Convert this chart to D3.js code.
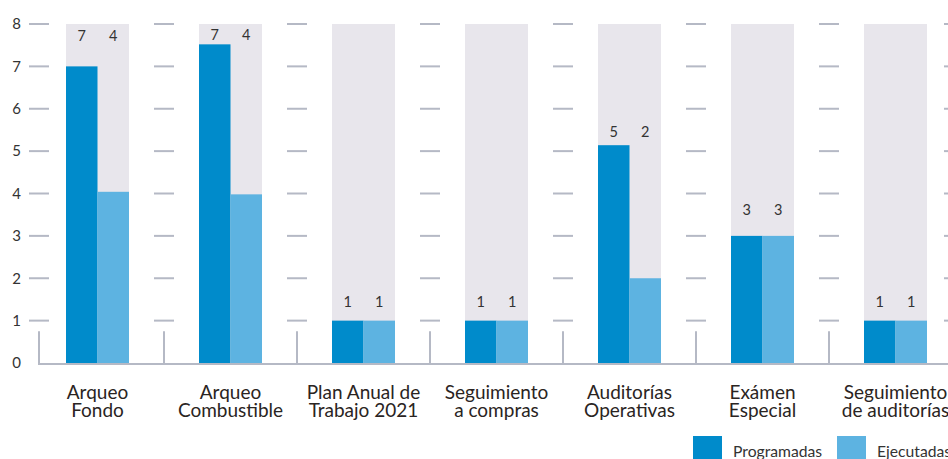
<!DOCTYPE html>
<html>
<head>
<meta charset="utf-8">
<script src="https://cdn.jsdelivr.net/npm/d3@7"></script>
<style>
  html, body { margin: 0; padding: 0; background: #fff; }
  svg { display: block; font-family: Lato, "Open Sans", sans-serif; }
</style>
</head>
<body>
<svg id="chart" width="948" height="459"></svg>
<script>
// ---- data ----
const categories = ["Arqueo Fondo", "Arqueo Combustible", "Plan Anual de Trabajo 2021", "Seguimiento a compras", "Auditorías Operativas", "Exámen Especial", "Seguimiento de auditorías"];
const categoryLines = [["Arqueo", "Fondo"], ["Arqueo", "Combustible"], ["Plan Anual de", "Trabajo 2021"], ["Seguimiento", "a compras"], ["Auditorías", "Operativas"], ["Exámen", "Especial"], ["Seguimiento", "de auditorías"]];
const programadas = [7, 7.52, 1, 1, 5.14, 3, 1];
const ejecutadas = [4.04, 3.98, 1, 1, 2, 3, 1];
const programadasLabels = ["7", "7", "1", "1", "5", "3", "1"];
const ejecutadasLabels = ["4", "4", "1", "1", "2", "3", "1"];
const labelLevel = [7.73, 7.75, 1.44, 1.44, 5.46, 3.61, 1.44];
const yTicks = [0, 1, 2, 3, 4, 5, 6, 7, 8];
const seriesNames = ["Programadas", "Ejecutadas"];
const colors = ["#008bcb", "#5db3e1"];

// ---- scales ----
const svg = d3.select("#chart");
const y = d3.scaleLinear().domain([0, 8]).range([363, 24]);
const x = d3.scaleBand().domain(categories).range([-0.5, 993.5]).paddingInner(70 / 133).paddingOuter(0.5);
const x1 = d3.scaleBand().domain(seriesNames).range([0, x.bandwidth()]);
const centers = categories.map(c => x(c) + x.bandwidth() / 2);
const boundaries = [centers[0] - 58.5];
for (let i = 1; i < centers.length; i++) boundaries.push((centers[i - 1] + centers[i]) / 2);
boundaries.push(centers[centers.length - 1] + 58.5);

const gridColor = "#b5b9c5";

// gray backgrounds
svg.append("g").selectAll("rect").data(categories).join("rect")
  .attr("x", d => x(d)).attr("width", x.bandwidth())
  .attr("y", y(8)).attr("height", y(0) - y(8))
  .attr("fill", "#e8e6ec");

// grid dashes at boundaries
const gridG = svg.append("g");
boundaries.forEach(b => {
  gridG.selectAll(null).data(yTicks.filter(t => t > 0)).join("line")
    .attr("x1", b - 10).attr("x2", b + 10)
    .attr("y1", d => y(d)).attr("y2", d => y(d))
    .attr("stroke", gridColor).attr("stroke-width", 2);
  gridG.append("line")
    .attr("x1", b).attr("x2", b)
    .attr("y1", y(0.75)).attr("y2", y(0) + 1)
    .attr("stroke", gridColor).attr("stroke-width", 2);
});

// bars
const groups = svg.append("g").selectAll("g").data(categories).join("g")
  .attr("transform", d => `translate(${x(d)},0)`);
groups.each(function (c, i) {
  const g = d3.select(this);
  const vals = [programadas[i], ejecutadas[i]];
  const labs = [programadasLabels[i], ejecutadasLabels[i]];
  g.selectAll("rect").data(seriesNames).join("rect")
    .attr("x", s => x1(s)).attr("width", x1.bandwidth())
    .attr("y", (s, j) => y(vals[j])).attr("height", (s, j) => y(0) - y(vals[j]) + 1.5)
    .attr("fill", (s, j) => colors[j]);
  g.selectAll("text").data(seriesNames).join("text")
    .attr("x", s => x1(s) + x1.bandwidth() / 2)
    .attr("y", y(labelLevel[i])).attr("dy", "0.36em")
    .attr("text-anchor", "middle")
    .attr("font-size", 14.5).attr("fill", "#333")
    .text((s, j) => labs[j]);
});

// baseline
svg.append("line")
  .attr("x1", boundaries[0] - 1).attr("x2", 948)
  .attr("y1", y(0) + 1).attr("y2", y(0) + 1)
  .attr("stroke", gridColor).attr("stroke-width", 2);

// y axis labels
const yAxis = d3.axisLeft(y).tickValues(yTicks).tickSize(0).tickPadding(0);
const yg = svg.append("g").attr("transform", "translate(21,0)").call(yAxis);
yg.select(".domain").remove();
yg.selectAll("text").attr("font-size", 15).attr("fill", "#333").attr("font-family", "Lato, sans-serif");

// category labels
const xl = svg.append("g");
categories.forEach((c, i) => {
  const t = xl.append("text")
    .attr("x", centers[i]).attr("y", 399)
    .attr("text-anchor", "middle")
    .attr("font-size", 19).attr("fill", "#2a2422");
  categoryLines[i].forEach((ln, k) => {
    t.append("tspan").attr("x", centers[i]).attr("y", 399 + k * 18).text(ln);
  });
});

// legend
const legend = svg.append("g");
const legendX = [693, 837];
seriesNames.forEach((s, j) => {
  legend.append("rect").attr("x", legendX[j]).attr("y", 436).attr("width", 29).attr("height", 29).attr("fill", colors[j]);
  legend.append("text").attr("x", legendX[j] + 40).attr("y", 457)
    .attr("font-size", 15.7).attr("fill", "#333").text(s);
});
</script>
</body>
</html>
